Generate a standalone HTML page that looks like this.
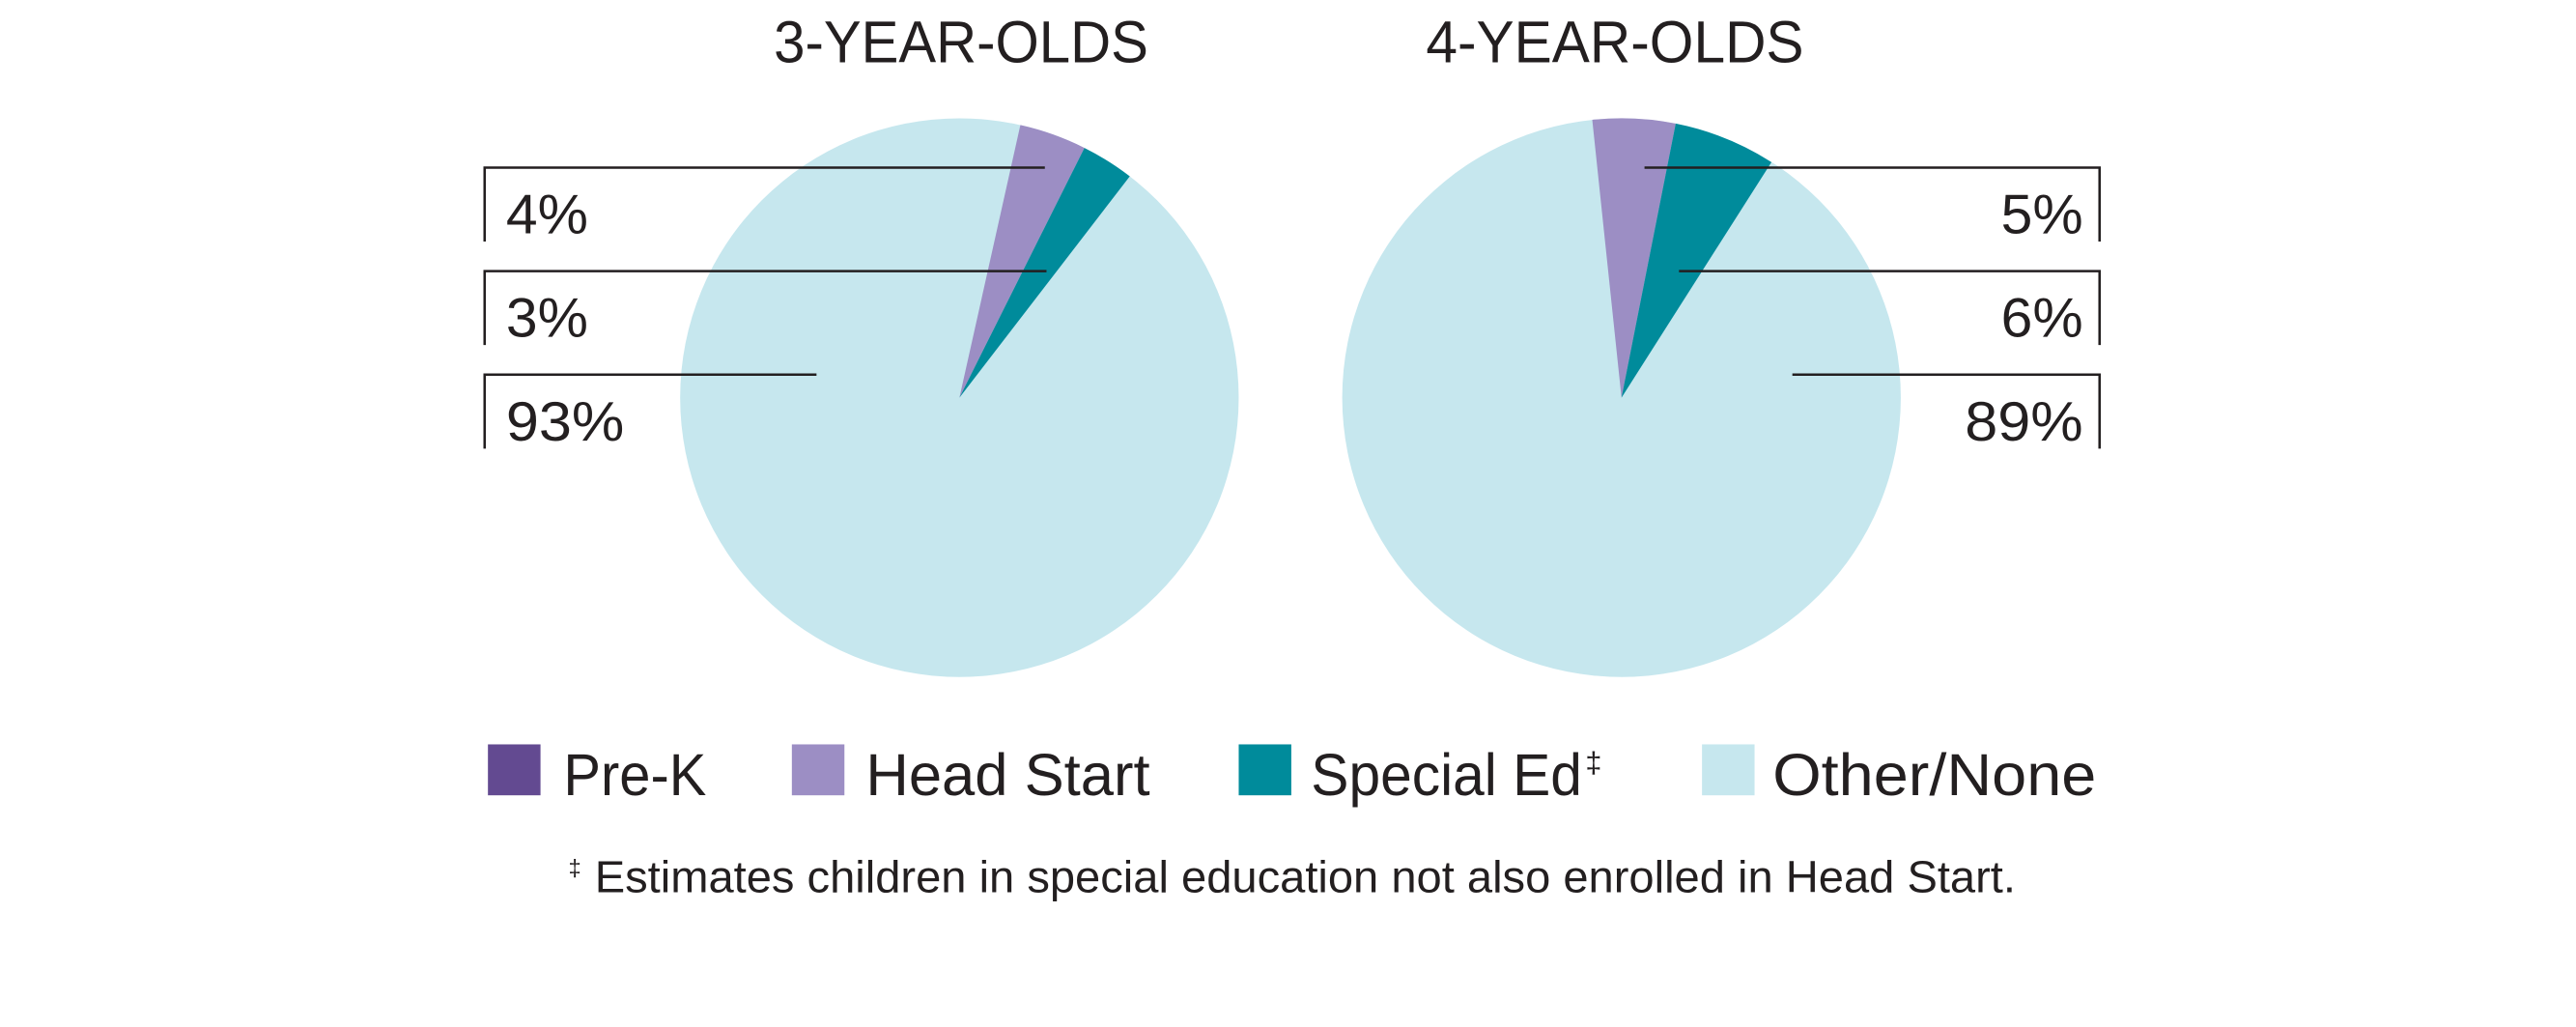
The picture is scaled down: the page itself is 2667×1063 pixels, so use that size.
<!DOCTYPE html>
<html><head><meta charset="utf-8"><style>
html,body{margin:0;padding:0;background:#fff;}
svg{display:block;}
text{font-family:"Liberation Sans",sans-serif;fill:#231f20;}
</style></head><body>
<svg width="2667" height="1063" viewBox="0 0 1568 625" preserveAspectRatio="none" xmlns="http://www.w3.org/2000/svg">
<text x="471" y="38" font-size="36" textLength="228" lengthAdjust="spacingAndGlyphs">3-YEAR-OLDS</text>
<text x="868" y="38" font-size="36" textLength="230" lengthAdjust="spacingAndGlyphs">4-YEAR-OLDS</text>
<!-- pie 1 -->
<circle cx="584" cy="242" r="170" fill="#c6e7ee"/>
<path d="M584,242 L621.1,76.1 A170,170 0 0 1 660.1,90.0 Z" fill="#9c8ec4"/>
<path d="M584,242 L660.1,90.0 A170,170 0 0 1 687.7,107.3 Z" fill="#008b9b"/>
<!-- pie 2 -->
<circle cx="987" cy="242" r="170" fill="#c6e7ee"/>
<path d="M987,242 L969.2,72.9 A170,170 0 0 1 1020.0,75.2 Z" fill="#9c8ec4"/>
<path d="M987,242 L1020.0,75.2 A170,170 0 0 1 1078.3,98.7 Z" fill="#008b9b"/>
<g stroke="#231f20" stroke-width="1.5" fill="none">
<polyline points="295,147 295,102 636,102"/>
<polyline points="295,210 295,165 637,165"/>
<polyline points="295,273 295,228 497,228"/>
<polyline points="1278,147 1278,102 1001,102"/>
<polyline points="1278,210 1278,165 1022,165"/>
<polyline points="1278,273 1278,228 1091,228"/>
</g>
<g font-size="34">
<text x="308" y="142" textLength="50" lengthAdjust="spacingAndGlyphs">4%</text>
<text x="308" y="205" textLength="50" lengthAdjust="spacingAndGlyphs">3%</text>
<text x="308" y="268" textLength="72" lengthAdjust="spacingAndGlyphs">93%</text>
<text x="1218" y="142" textLength="50" lengthAdjust="spacingAndGlyphs">5%</text>
<text x="1218" y="205" textLength="50" lengthAdjust="spacingAndGlyphs">6%</text>
<text x="1196" y="268" textLength="72" lengthAdjust="spacingAndGlyphs">89%</text>
</g>
<rect x="297" y="453" width="32" height="31" fill="#634a91"/>
<rect x="482" y="453" width="32" height="31" fill="#9c8ec4"/>
<rect x="754" y="453" width="32" height="31" fill="#008b9b"/>
<rect x="1036" y="453" width="32" height="31" fill="#c6e7ee"/>
<g font-size="36">
<text x="343" y="484" textLength="87" lengthAdjust="spacingAndGlyphs">Pre-K</text>
<text x="527" y="484" textLength="173" lengthAdjust="spacingAndGlyphs">Head Start</text>
<text x="798" y="484" textLength="165" lengthAdjust="spacingAndGlyphs">Special Ed</text>
<text x="965" y="470" font-size="18">‡</text>
<text x="1079" y="484" textLength="197" lengthAdjust="spacingAndGlyphs">Other/None</text>
</g>
<text x="346" y="533" font-size="14">‡</text>
<text x="362" y="543" font-size="27" textLength="865" lengthAdjust="spacingAndGlyphs">Estimates children in special education not also enrolled in Head Start.</text>
</svg>
</body></html>
